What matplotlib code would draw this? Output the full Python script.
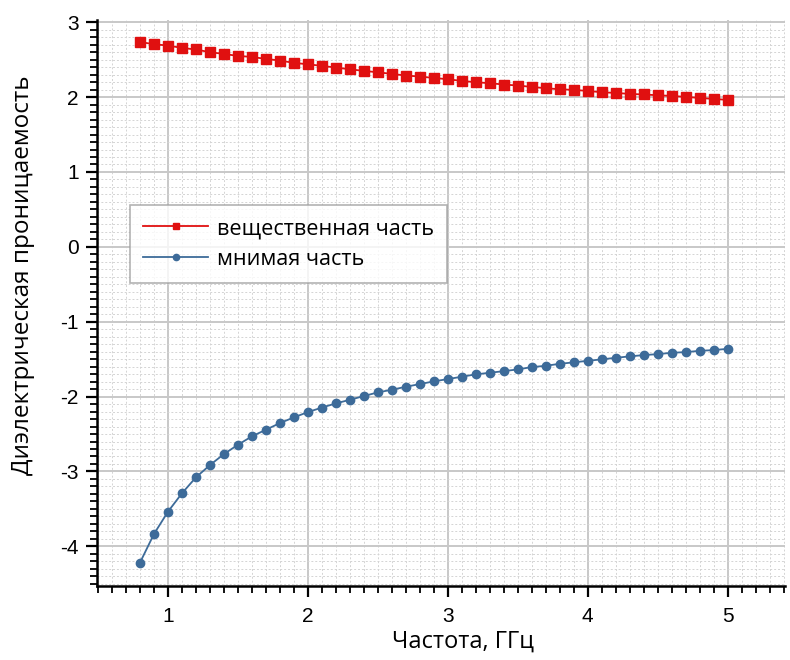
import matplotlib
matplotlib.use("Agg")
import matplotlib.pyplot as plt
from matplotlib.ticker import MultipleLocator
import numpy as np

freq = [0.8, 0.9, 1.0, 1.1, 1.2, 1.3, 1.4, 1.5, 1.6, 1.7, 1.8, 1.9, 2.0, 2.1, 2.2,
        2.3, 2.4, 2.5, 2.6, 2.7, 2.8, 2.9, 3.0, 3.1, 3.2, 3.3, 3.4, 3.5, 3.6, 3.7,
        3.8, 3.9, 4.0, 4.1, 4.2, 4.3, 4.4, 4.5, 4.6, 4.7, 4.8, 4.9, 5.0]

real_part = [2.737, 2.706, 2.689, 2.657, 2.636, 2.600, 2.577, 2.550, 2.537, 2.510,
             2.489, 2.457, 2.439, 2.417, 2.395,
             2.372, 2.350, 2.332, 2.310, 2.288, 2.275, 2.256, 2.239, 2.216, 2.199,
             2.186, 2.168, 2.155, 2.136, 2.119,
             2.105, 2.096, 2.083, 2.065, 2.056, 2.043, 2.035, 2.025, 2.016, 2.003,
             1.989, 1.976, 1.963]

imag_part = [-4.219, -3.836, -3.538, -3.292, -3.079, -2.915, -2.768, -2.644, -2.531,
             -2.443, -2.354, -2.278, -2.207, -2.147,
             -2.091, -2.043, -1.993, -1.944, -1.909, -1.869, -1.833, -1.797, -1.766,
             -1.735, -1.703, -1.682, -1.660, -1.637, -1.606,
             -1.589, -1.562, -1.543, -1.522, -1.503, -1.482, -1.463, -1.446, -1.433,
             -1.415, -1.406, -1.389, -1.379, -1.362]

x_label = "Частота, ГГц"
y_label = "Диэлектрическая проницаемость"
legend_labels = ["вещественная часть", "мнимая часть"]

plt.rcParams["axes.unicode_minus"] = False
plt.rcParams["font.family"] = ["Liberation Sans", "DejaVu Sans"]

fig = plt.figure(figsize=(7.9, 6.6), dpi=100)
ax = fig.add_axes([97/790, 1 - 586/660, (785 - 97)/790, (586 - 20)/660])

ax.plot(freq, real_part, color="#e01010", lw=1.3, marker="s", ms=6.5,
        label=legend_labels[0], zorder=3)
ax.plot(freq, imag_part, color="#3d6b99", lw=1.3, marker="o", ms=6,
        label=legend_labels[1], zorder=3)

ax.set_xlim(0.493, 5.41)
ax.set_ylim(-4.53, 3.03)

ax.xaxis.set_major_locator(MultipleLocator(1))
ax.xaxis.set_minor_locator(MultipleLocator(0.1))
ax.yaxis.set_major_locator(MultipleLocator(1))
ax.yaxis.set_minor_locator(MultipleLocator(0.1))

ax.grid(which="major", color="#c8c8c8", lw=1.4, ls="-", zorder=0)
ax.grid(which="minor", color="#d4d4d4", lw=0.7, ls=(0, (2, 2)), zorder=0)
ax.set_axisbelow(True)

for s in ["top", "right"]:
    ax.spines[s].set_visible(False)
for s in ["left", "bottom"]:
    ax.spines[s].set_linewidth(1.8)
    ax.spines[s].set_color("black")

ax.tick_params(which="major", direction="out", length=8, width=1.6,
               labelsize=15, pad=5)
ax.tick_params(which="minor", direction="out", length=5, width=1.3)
ax.tick_params(axis="x", which="major", pad=7)

ax.set_xlabel(x_label, fontsize=17, family="Open Sans")
ax.set_ylabel(y_label, fontsize=17.5, family="Open Sans")
ax.xaxis.set_label_coords((463 - 97)/688, (586 - 630)/566)
ax.yaxis.set_label_coords((35 - 97)/688, (586 - 275)/566)

leg = ax.legend(loc="upper left", bbox_to_anchor=((130 - 97)/688, (586 - 205)/566),
                prop={"family": "Open Sans", "size": 15.6}, frameon=True,
                fancybox=False, handlelength=3.0, handletextpad=0.4,
                borderpad=0.6, labelspacing=0.45, borderaxespad=0)
leg.get_frame().set_edgecolor("#a0a0a0")
leg.get_frame().set_linewidth(1.2)
for h in leg.legend_handles:
    h.set_markersize(4.5)

fig.savefig("out.png", dpi=100, facecolor="white")
